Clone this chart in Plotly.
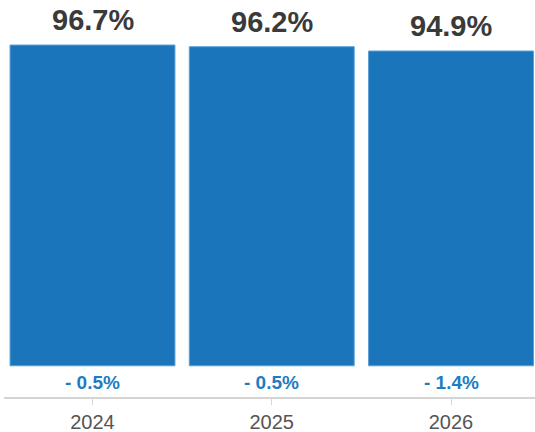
import plotly.graph_objects as go

years = ["2024", "2025", "2026"]
rates = [96.7, 96.2, 94.9]
changes = ["- 0.5%", "- 0.5%", "- 1.4%"]

positions = list(range(len(years)))
bar_color = "#1b75bb"

fig = go.Figure(
    go.Bar(
        x=positions,
        y=rates,
        width=0.92,
        marker=dict(color=bar_color, line=dict(color="#5d9fd6", width=1)),
        hoverinfo="skip",
    )
)

for xi, v in zip(positions, rates):
    fig.add_annotation(
        x=xi, y=v, text=f"<b>{v:.1f}%</b>", showarrow=False,
        yanchor="middle", yshift=25,
        font=dict(family="Liberation Sans, Arial, sans-serif", size=29, color="#3a3a3a"),
    )

for xi, c in zip(positions, changes):
    fig.add_annotation(
        x=xi, y=0, text=f"<b>{c}</b>", showarrow=False,
        yanchor="middle", yshift=-17,
        font=dict(family="Liberation Sans, Arial, sans-serif", size=19, color="#1e7cc4"),
    )

fig.update_layout(
    width=535, height=432,
    margin=dict(l=4, r=0, t=0, b=35),
    paper_bgcolor="white", plot_bgcolor="white",
    showlegend=False,
    xaxis=dict(
        range=[-0.4937, 2.4686],
        tickmode="array", tickvals=positions, ticktext=years,
        showline=True, linecolor="#d4d4d4", linewidth=2,
        ticks="outside", ticklen=6, tickcolor="#d4d4d4", tickwidth=1,
        showgrid=False, zeroline=False,
        tickfont=dict(family="Liberation Sans, Arial, sans-serif", size=20, color="#555555"),
    ),
    yaxis=dict(
        range=[-9.41, 110.28],
        visible=False, showgrid=False, zeroline=False,
    ),
)

fig.write_html("out.html")
